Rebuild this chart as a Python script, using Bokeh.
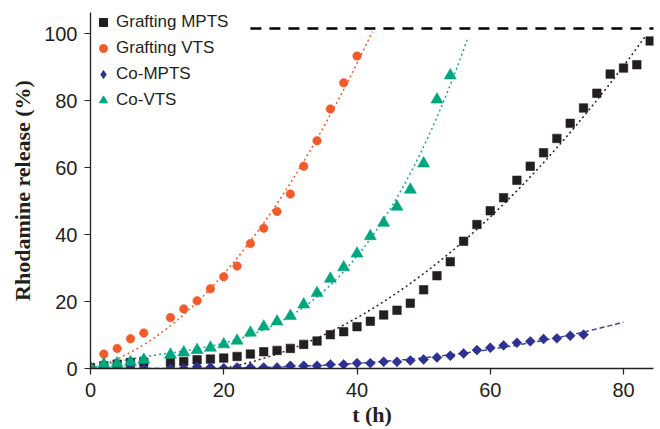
import numpy as np
from bokeh.plotting import figure
from bokeh.models import Legend, LegendItem, FixedTicker
from bokeh.embed import file_html
from bokeh.resources import INLINE

# ---- data ----
t_graft_mpts = [0, 2, 4, 6, 8, 12, 14, 16, 18, 20, 22, 24, 26, 28, 30, 32, 34, 36, 38, 40,
                42, 44, 46, 48, 50, 52, 54, 56, 58, 60, 62, 64, 66, 68, 70, 72, 74, 76, 78, 80, 82, 84]
v_graft_mpts = [0.3, 0.8, 1.3, 1.8, 1.9, 1.8, 2.1, 2.6, 2.8, 3.1, 3.6, 4.3, 5.0, 5.4, 6.0, 7.2, 8.2, 10.1, 11.0, 12.5,
                14.1, 16.0, 17.4, 19.5, 23.5, 27.7, 31.9, 38.0, 43.0, 47.1, 51.0, 56.2, 60.4, 64.4, 68.7, 73.2, 77.8, 82.2, 87.9, 89.7, 90.7, 97.8]

t_graft_vts = [0, 2, 4, 6, 8, 12, 14, 16, 18, 20, 22, 24, 26, 28, 30, 32, 34, 36, 38, 40]
v_graft_vts = [0.0, 4.3, 6.0, 8.9, 10.6, 15.2, 17.8, 20.2, 23.8, 27.4, 30.6, 37.3, 41.9, 46.9, 52.1, 60.4, 68.0, 77.5, 85.3, 93.3]

t_co_mpts = [0, 2, 4, 6, 8, 12, 14, 16, 18, 20, 22, 24, 26, 28, 30, 32, 34, 36, 38, 40,
             42, 44, 46, 48, 50, 52, 54, 56, 58, 60, 62, 64, 66, 68, 70, 72, 74]
v_co_mpts = [0.0, 0.0, 0.0, 0.0, 0.0, 0.0, 0.0, 0.5, 0.3, 0.1, 0.3, 0.3, 0.3, 0.3, 0.8, 0.8, 0.8, 1.2, 1.2, 1.6,
             1.6, 2.0, 2.0, 2.4, 2.7, 3.3, 3.8, 4.5, 5.5, 6.2, 6.9, 7.7, 8.1, 8.8, 9.0, 9.8, 10.1]

t_co_vts = [0, 2, 4, 6, 8, 12, 14, 16, 18, 20, 22, 24, 26, 28, 30, 32, 34, 36, 38, 40, 42, 44, 46, 48, 50, 52, 54]
v_co_vts = [0.2, 1.3, 1.5, 1.9, 2.6, 4.1, 4.8, 5.5, 6.2, 7.2, 8.3, 10.7, 12.5, 14.0, 15.7, 19.1, 22.5, 26.8, 30.2, 34.3,
            39.5, 43.5, 48.3, 53.4, 61.2, 80.3, 87.5]

series_names = ["Grafting MPTS", "Grafting VTS", "Co-MPTS", "Co-VTS"]
fit_degree = [2, 2, 3, 3]
fit_origin = [True, True, False, True]
fit_end = [83.4, 42.3, 80.0, 56.6]

ref_x = [24, 85]
ref_y = [101.5, 101.5]

x_ticks = [0, 20, 40, 60, 80]
y_ticks = [0, 20, 40, 60, 80, 100]

# ---- styling ----
colors = ["#231f20", "#f15a29", "#2e3192", "#00a67e"]
fit_colors = ["#231f20", "#f15a29", "#3f44a8", "#10a89a"]
fit_dash = ["2 3", "2 3", "5 3", "2 3"]
markers = ["square", "circle", "square", "triangle"]
angles = [0, 0, np.pi / 4, 0]
sizes = [8.5, 8.5, 7, 12]
legend_markers = ["square", "circle", "diamond", "triangle"]
legend_sizes = [7, 7.5, 11.5, 10]

p = figure(width=660, height=429, x_range=(0, 84.5), y_range=(0, 106.3),
           output_backend="svg", toolbar_location=None,
           min_border_left=90, min_border_right=7, min_border_top=12, min_border_bottom=61)
p.outline_line_color = None
p.grid.visible = False
p.background_fill_color = "white"

data = [(t_graft_mpts, v_graft_mpts), (t_graft_vts, v_graft_vts),
        (t_co_mpts, v_co_mpts), (t_co_vts, v_co_vts)]

# reference line
p.line(ref_x, ref_y, line_color="black", line_width=2.5, line_dash="11 8")

# trend lines: polynomial least-squares fits of the data
for i, (t, v) in enumerate(data):
    ta = np.asarray(t, dtype=float)
    k0 = 1 if fit_origin[i] else 0
    A = np.column_stack([ta ** k for k in range(k0, fit_degree[i] + 1)])
    coef, *_ = np.linalg.lstsq(A, np.asarray(v, dtype=float), rcond=None)
    tt = np.linspace(0, fit_end[i], 200)
    vv = sum(c * tt ** (k + k0) for k, c in enumerate(coef))
    p.line(tt, vv, line_color=fit_colors[i], line_width=1.5, line_dash=fit_dash[i])

# markers
for i in range(4):
    t, v = data[i]
    p.scatter(t, v, marker=markers[i], size=sizes[i], angle=angles[i],
              fill_color=colors[i], line_color=colors[i], line_width=0.6)

# legend-only renderers (smaller symbols)
items = []
for i in range(4):
    r = p.scatter([float("nan")], [float("nan")], marker=legend_markers[i], size=legend_sizes[i],
                  fill_color=colors[i], line_color=colors[i])
    items.append(LegendItem(label=series_names[i], renderers=[r]))

legend = Legend(items=items, location="top_left", margin=0, padding=0,
                border_line_alpha=0, background_fill_alpha=0,
                label_text_font="Liberation Sans", label_text_font_size="17px",
                label_text_color="#231f20", glyph_width=26, glyph_height=20,
                label_height=20, spacing=6, label_standoff=0)
p.add_layout(legend)

# axes
for ax in (p.xaxis[0], p.yaxis[0]):
    ax.axis_line_color = "#231f20"
    ax.axis_line_width = 1.3
    ax.major_tick_line_color = "#231f20"
    ax.major_tick_line_width = 1.2
    ax.major_tick_in = 0
    ax.major_tick_out = 6
    ax.minor_tick_line_color = None
    ax.major_label_text_font = "Liberation Sans"
    ax.major_label_text_font_size = "20px"
    ax.major_label_text_color = "#231f20"
    ax.axis_label_text_font = "Liberation Serif"
    ax.axis_label_text_font_style = "bold"
    ax.axis_label_text_font_size = "22px"
    ax.axis_label_text_color = "#231f20"

p.xaxis.ticker = FixedTicker(ticks=x_ticks)
p.yaxis.ticker = FixedTicker(ticks=y_ticks)
p.xaxis.axis_label = "t (h)"
p.yaxis.axis_label = "Rhodamine release (%)"
p.xaxis.major_label_standoff = 8
p.yaxis.major_label_standoff = 7
p.xaxis.axis_label_standoff = 2
p.yaxis.axis_label_standoff = 6

open("out.html", "w").write(file_html(p, INLINE))
